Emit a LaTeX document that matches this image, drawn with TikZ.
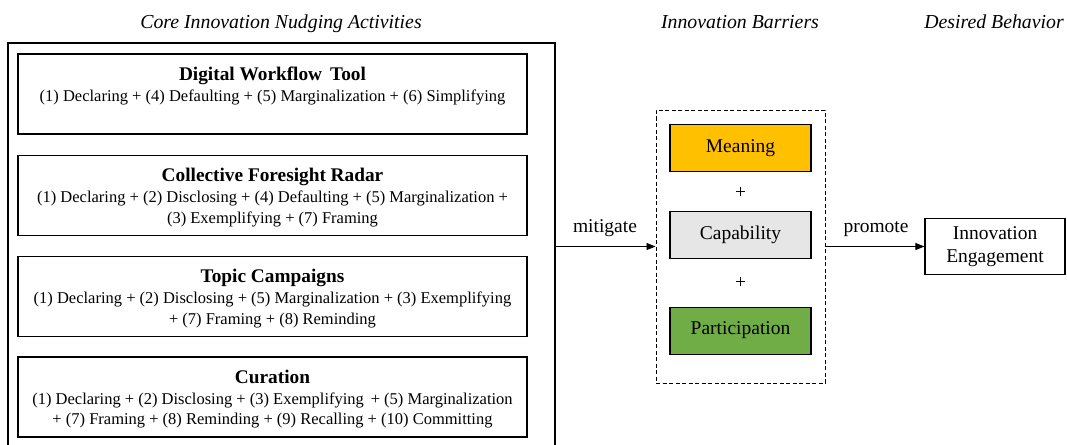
\documentclass[tikz,border=0pt]{standalone}
\usepackage{fontspec}
\setmainfont{Liberation Serif}
\usetikzlibrary{arrows.meta}
\definecolor{meaning}{HTML}{FFC000}
\definecolor{capab}{HTML}{E7E6E6}
\definecolor{partic}{HTML}{70AD47}
\begin{document}
\begin{tikzpicture}[x=1pt,y=-1pt,
 actbox/.style={draw, line width=1.1pt, minimum width=509pt, minimum height=80pt, inner sep=0pt},
 ttl/.style={font=\fontsize{19.3}{22}\selectfont\bfseries, anchor=base, inner sep=0pt},
 body/.style={font=\fontsize{16.5}{20.5}\selectfont, align=center, anchor=north, inner sep=0pt},
 head/.style={font=\fontsize{19.8}{22}\selectfont\itshape, anchor=base, inner sep=0pt},
 barrier/.style={draw, line width=1.1pt, minimum width=141pt, minimum height=47pt, inner sep=0pt, font=\fontsize{19.5}{22}\selectfont},
 plus/.style={font=\fontsize{19.5}{22}\selectfont, inner sep=0pt},
 arr/.style={-{Triangle[length=9pt,width=7pt]}, line width=0.8pt},
 lbl/.style={font=\fontsize{19.5}{22}\selectfont, anchor=base, inner sep=0pt}
]
\useasboundingbox (0,0) rectangle (1067,444);
% headings
\node[head] (h1) at (281,29) {Core Innovation Nudging Activities};
\node[head] (h2) at (740,29) {Innovation Barriers};
\node[head] (h3) at (994,29) {Desired Behavior};
% outer frame (open at the bottom)
\draw[line width=1.3pt] (8,450) -- (8,43) -- (555,43) -- (555,450);
\coordinate (outR) at (555,246.5);
% activity boxes
\node[actbox] (b1) at (272.5,94) {};
\node[actbox] (b2) at (272.5,195.5) {};
\node[actbox] (b3) at (272.5,296.5) {};
\node[actbox] (b4) at (272.5,397) {};
\node[ttl] (t1) at ([yshift=-27pt]b1.north) {Digital Workflow\, Tool};
\node[body] (d1) at ([yshift=-36pt]b1.north) {(1) Declaring + (4) Defaulting + (5) Marginalization + (6) Simplifying};
\node[ttl] (t2) at ([yshift=-27pt]b2.north) {Collective Foresight Radar};
\node[body] (d2) at ([yshift=-36pt]b2.north) {(1) Declaring + (2) Disclosing + (4) Defaulting + (5) Marginalization +\\(3) Exemplifying + (7) Framing};
\node[ttl] (t3) at ([yshift=-27pt]b3.north) {Topic Campaigns};
\node[body] (d3) at ([yshift=-36pt]b3.north) {(1) Declaring + (2) Disclosing + (5) Marginalization + (3) Exemplifying\\+ (7) Framing + (8) Reminding};
\node[ttl] (t4) at ([yshift=-27pt]b4.north) {Curation};
\node[body] (d4) at ([yshift=-36pt]b4.north) {(1) Declaring + (2) Disclosing + (3) Exemplifying\, + (5) Marginalization\\+ (7) Framing + (8) Reminding + (9) Recalling + (10) Committing};
% barriers
\node[draw, dash pattern=on 4pt off 2.5pt, line width=1pt, minimum width=169pt, minimum height=273pt, inner sep=0pt] (bar) at (740.5,246.5) {};
\node[barrier, fill=meaning] (m) at (740.5,148) {Meaning};
\node[plus] (p1) at (740.5,193) {+};
\node[barrier, fill=capab] (c) at (740.5,235.3) {Capability};
\node[plus] (p2) at (740.5,283) {+};
\node[barrier, fill=partic] (p) at (740.5,330.6) {Participation};
% outcome
\node[draw, line width=1.1pt, minimum width=140pt, minimum height=56pt, inner sep=0pt, align=center, font=\fontsize{19.5}{23}\selectfont] (ie) at (995,246.5) {Innovation\\Engagement};
% connectors
\draw[arr] (outR) -- (bar.west);
\draw[arr] (bar.east) -- (ie.west);
\node[lbl] (l1) at (605,232) {mitigate};
\node[lbl] (l2) at (876,232) {promote};
\end{tikzpicture}
\end{document}
